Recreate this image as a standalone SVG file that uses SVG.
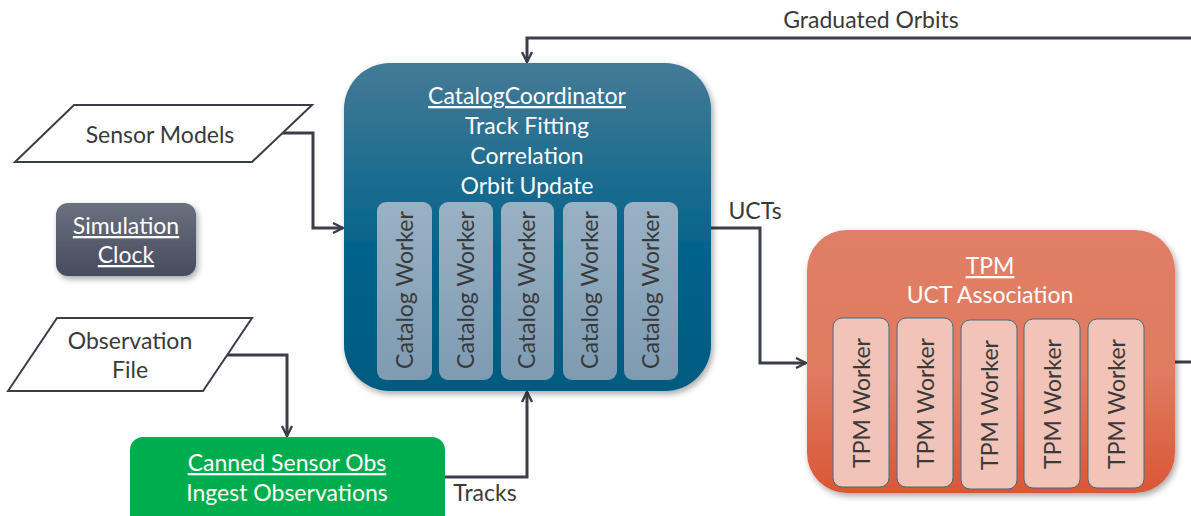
<svg xmlns="http://www.w3.org/2000/svg" width="1191" height="516" viewBox="0 0 1191 516">
  <defs>
    <linearGradient id="gCatalog" x1="0" y1="0" x2="0" y2="1">
      <stop offset="0" stop-color="#447A96"/>
      <stop offset="0.6" stop-color="#00628A"/>
      <stop offset="1" stop-color="#005A80"/>
    </linearGradient>
    <linearGradient id="gWorker" x1="0" y1="0" x2="0" y2="1">
      <stop offset="0" stop-color="#9AB1C3"/>
      <stop offset="1" stop-color="#7E9BB2"/>
    </linearGradient>
    <linearGradient id="gTpm" x1="0" y1="0" x2="0" y2="1">
      <stop offset="0" stop-color="#E07F66"/>
      <stop offset="0.55" stop-color="#E07A60"/>
      <stop offset="1" stop-color="#D95736"/>
    </linearGradient>
    <linearGradient id="gClock" x1="0" y1="0" x2="0" y2="1">
      <stop offset="0" stop-color="#6B707F"/>
      <stop offset="1" stop-color="#474C5E"/>
    </linearGradient>
    <filter id="shadow" x="-10%" y="-10%" width="125%" height="125%">
      <feDropShadow dx="2" dy="3" stdDeviation="3" flood-color="#000" flood-opacity="0.35"/>
    </filter>
    <marker id="arrow" viewBox="0 0 12 12" refX="11" refY="6" markerWidth="12" markerHeight="12" markerUnits="userSpaceOnUse" orient="auto">
      <path d="M1,1 L11,6 L1,11" fill="none" stroke="#3A3E48" stroke-width="2.4"/>
    </marker>
    <style>
      .t { font-family: Lato, "Open Sans", "Liberation Sans", sans-serif; font-size: 23px; text-anchor: middle; }
      .w { fill: #FFFFFF; }
      .d { fill: #3A3A3A; }
      .u { text-decoration: underline; }
      .conn { fill: none; stroke: #3A3E48; stroke-width: 3; marker-end: url(#arrow); }
      .io { fill: #FFFFFF; stroke: #3A3E48; stroke-width: 2; }
      .cw { fill: url(#gWorker); }
      .tw { fill: #F2C4B8; stroke: #3F6E80; stroke-width: 1; }
    </style>
  </defs>

  <rect width="1191" height="516" fill="#FFFFFF"/>

  <!-- connectors -->
  <g id="connectors">
    <path class="conn" d="M282,133 H313 V228 H343"/>
    <path class="conn" d="M227,355 H287 V436"/>
    <path class="conn" d="M445,477 H527 V392"/>
    <path class="conn" d="M711,228 H760 V363 H806"/>
    <path class="conn" d="M1191,38 H527 V62"/>
    <path fill="none" stroke="#3A3E48" stroke-width="3" d="M1175,362 H1191"/>
    <text class="t d" x="871" y="28">Graduated Orbits</text>
    <text class="t d" x="755" y="219">UCTs</text>
    <text class="t d" x="485" y="501">Tracks</text>
  </g>

  <!-- input data -->
  <g id="sensor-models">
    <polygon class="io" points="15,162 74,105 312,105 252,162"/>
    <text class="t d" x="160" y="143">Sensor Models</text>
  </g>

  <g id="observation-file">
    <polygon class="io" points="8,391 57,318 252,318 203,391"/>
    <text class="t d" x="130" y="349">Observation</text>
    <text class="t d" x="130" y="378">File</text>
  </g>

  <g id="simulation-clock">
    <rect x="56" y="203" width="140" height="73" rx="12" fill="url(#gClock)" filter="url(#shadow)"/>
    <text class="t w u" x="126" y="234">Simulation</text>
    <text class="t w u" x="126" y="263">Clock</text>
  </g>

  <g id="canned-sensor-obs">
    <rect x="130" y="437" width="315" height="95" rx="13" fill="#00AD4E"/>
    <text class="t w u" x="287" y="471">Canned Sensor Obs</text>
    <text class="t w" x="287" y="501">Ingest Observations</text>
  </g>

  <!-- catalog coordinator with its workers -->
  <g id="catalog-coordinator">
    <rect x="344" y="63" width="367" height="328" rx="46" fill="url(#gCatalog)" filter="url(#shadow)"/>
    <text class="t w u" x="527" y="104">CatalogCoordinator</text>
    <text class="t w" x="527" y="134">Track Fitting</text>
    <text class="t w" x="527" y="164">Correlation</text>
    <text class="t w" x="527" y="194">Orbit Update</text>
    <g id="catalog-workers">
      <rect class="cw" x="377" y="202" width="55" height="178" rx="9"/>
      <rect class="cw" x="439" y="202" width="54" height="178" rx="9"/>
      <rect class="cw" x="501" y="202" width="53" height="178" rx="9"/>
      <rect class="cw" x="563" y="202" width="54" height="178" rx="9"/>
      <rect class="cw" x="624" y="202" width="54" height="178" rx="9"/>
      <text class="t d" transform="translate(413,290) rotate(-90)">Catalog Worker</text>
      <text class="t d" transform="translate(474,290) rotate(-90)">Catalog Worker</text>
      <text class="t d" transform="translate(535,290) rotate(-90)">Catalog Worker</text>
      <text class="t d" transform="translate(598,290) rotate(-90)">Catalog Worker</text>
      <text class="t d" transform="translate(659,290) rotate(-90)">Catalog Worker</text>
    </g>
  </g>

  <!-- TPM with its workers -->
  <g id="tpm">
    <rect x="807" y="230" width="368" height="263" rx="40" fill="url(#gTpm)" filter="url(#shadow)"/>
    <text class="t w u" x="990" y="274">TPM</text>
    <text class="t w" x="990" y="303">UCT Association</text>
    <g id="tpm-workers">
      <rect class="tw" x="833" y="318" width="56" height="169" rx="9"/>
      <rect class="tw" x="897" y="318" width="56" height="169" rx="9"/>
      <rect class="tw" x="961" y="320" width="56" height="169" rx="9"/>
      <rect class="tw" x="1024" y="319" width="56" height="169" rx="9"/>
      <rect class="tw" x="1088" y="319" width="56" height="169" rx="9"/>
      <text class="t d" transform="translate(870,403) rotate(-90)">TPM Worker</text>
      <text class="t d" transform="translate(934,403) rotate(-90)">TPM Worker</text>
      <text class="t d" transform="translate(998,405) rotate(-90)">TPM Worker</text>
      <text class="t d" transform="translate(1061,404) rotate(-90)">TPM Worker</text>
      <text class="t d" transform="translate(1125,404) rotate(-90)">TPM Worker</text>
    </g>
  </g>
</svg>
